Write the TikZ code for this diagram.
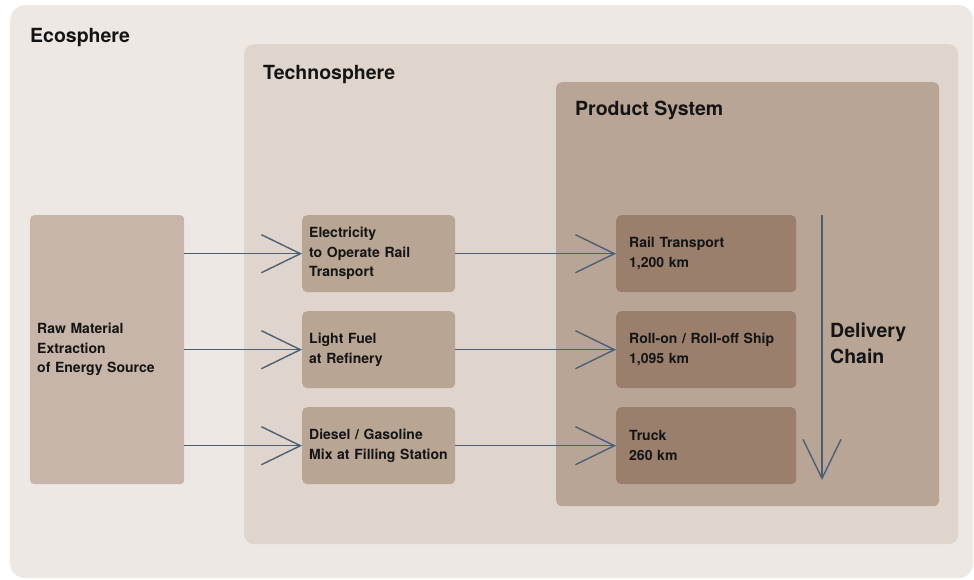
\documentclass[tikz,border=0pt]{standalone}
\usepackage{fontspec}
\setmainfont{TeX Gyre Heros}
\usetikzlibrary{arrows.meta}

\definecolor{ecoFill}{HTML}{EDE8E4}
\definecolor{technoFill}{HTML}{DFD5CC}
\definecolor{productFill}{HTML}{B8A595}
\definecolor{rawFill}{HTML}{C6B5A8}
\definecolor{midFill}{HTML}{B8A594}
\definecolor{chainFill}{HTML}{9B7F6D}
\definecolor{flowLine}{HTML}{4A6074}
\definecolor{ink}{HTML}{141414}

\tikzset{
  zone/.style={draw=none, anchor=north west, inner sep=0pt},
  zonelabel/.style={anchor=west, inner sep=0pt, text=ink,
    font=\fontsize{19.5}{24}\selectfont\bfseries},
  boxtext/.style={draw=none, anchor=north west, text=ink, align=left,
    inner ysep=0pt, font=\fontsize{14}{19.5}\selectfont\bfseries},
  rawbox/.style={boxtext, fill=rawFill, rounded corners=4pt,
    minimum width=154pt, minimum height=269pt, inner xsep=7pt, text width=140pt},
  midbox/.style={boxtext, fill=midFill, rounded corners=5pt,
    minimum width=153pt, minimum height=77pt, inner xsep=7pt, text width=139pt},
  chainbox/.style={boxtext, fill=chainFill, rounded corners=5pt,
    minimum width=180pt, minimum height=77pt, inner xsep=13pt, text width=154pt},
  flow/.style={draw=flowLine, line width=1.4pt,
    -{Straight Barb[length=39pt, width=38pt, line width=1.4pt]}},
}

\begin{document}
\begin{tikzpicture}[x=1pt, y=-1pt]
  \useasboundingbox (0,0) rectangle (974,580);
  \fill[white] (0,0) rectangle (974,580);

  % nested spheres
  \node[zone, fill=ecoFill, rounded corners=15pt,
        minimum width=963pt, minimum height=573pt] (eco) at (10,5) {};
  \node[zonelabel] (ecoLabel) at (30,38) {Ecosphere};

  \node[zone, fill=technoFill, rounded corners=10pt,
        minimum width=714pt, minimum height=500pt] (techno) at (244,44) {};
  \node[zonelabel] (technoLabel) at (263,75) {Technosphere};

  \node[zone, fill=productFill, rounded corners=6pt,
        minimum width=383pt, minimum height=424pt] (product) at (556,82) {};
  \node[zonelabel] (productLabel) at (575,110) {Product System};

  % process boxes
  \node[rawbox] (raw) at (30,215) {Raw Material\\Extraction\\of Energy Source};

  \node[midbox] (elec)   at (302,215) {Electricity\\to Operate Rail\\Transport};
  \node[midbox] (fuel)   at (302,311) {Light Fuel\\at Refinery};
  \node[midbox] (diesel) at (302,407) {Diesel / Gasoline\\Mix at Filling Station};

  \node[chainbox] (rail)  at (616,215) {Rail Transport\\1,200 km};
  \node[chainbox] (ship)  at (616,311) {Roll-on / Roll-off Ship\\1,095 km};
  \node[chainbox] (truck) at (616,407) {Truck\\260 km};

  % flows
  \draw[flow] (raw.east |- elec.west)   -- (elec.west);
  \draw[flow] (raw.east |- fuel.west)   -- (fuel.west);
  \draw[flow] (raw.east |- diesel.west) -- (diesel.west);

  \draw[flow] (elec.east)   -- (rail.west);
  \draw[flow] (fuel.east)   -- (ship.west);
  \draw[flow] (diesel.east) -- (truck.west);

  % delivery chain
  \coordinate (chainTop) at (822,215);
  \coordinate (chainEnd) at (822,480);
  \draw[flow] (chainTop) -- (chainEnd);
  \node[anchor=west, inner sep=0pt, text=ink, align=left,
        font=\fontsize{19.5}{26}\selectfont\bfseries] (chainLabel) at (830,343)
        {Delivery\\Chain};
\end{tikzpicture}
\end{document}
